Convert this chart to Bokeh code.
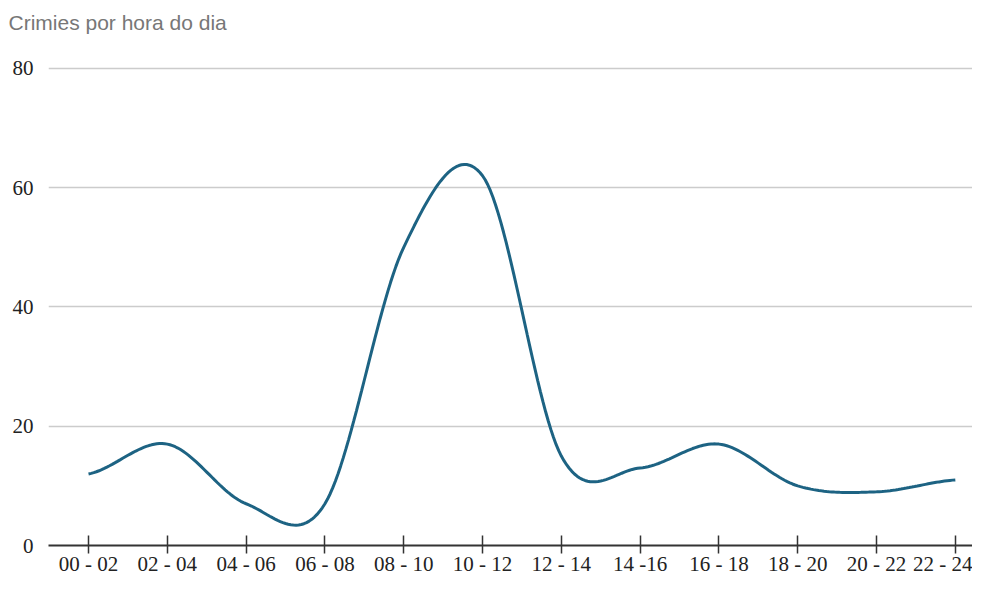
import numpy as np
from bokeh.plotting import figure
from bokeh.models import Range1d, FixedTicker
from bokeh.embed import file_html
from bokeh.resources import INLINE

title_text = "Crimies por hora do dia"
categories = ["00 - 02", "02 - 04", "04 - 06", "06 - 08", "08 - 10", "10 - 12",
              "12 - 14", "14 -16", "16 - 18", "18 - 20", "20 - 22", "22 - 24"]
crimes = [12, 17, 7, 7, 50, 62, 15, 13, 17, 10, 9, 11]
y_ticks = [0, 20, 40, 60, 80]


def catmull_rom(xs, ys, n=30):
    xs = np.asarray(xs, float)
    ys = np.asarray(ys, float)
    m = len(ys)
    tang = np.zeros(m)
    for i in range(m):
        prev = ys[i - 1] if i > 0 else ys[i]
        nxt = ys[i + 1] if i < m - 1 else ys[i]
        tang[i] = (nxt - prev) / 2.0
    out_x, out_y = [], []
    for i in range(m - 1):
        t = np.linspace(0, 1, n, endpoint=(i == m - 2))
        h00 = 2 * t**3 - 3 * t**2 + 1
        h10 = t**3 - 2 * t**2 + t
        h01 = -2 * t**3 + 3 * t**2
        h11 = t**3 - t**2
        out_y.extend(h00 * ys[i] + h10 * tang[i] + h01 * ys[i + 1] + h11 * tang[i + 1])
        out_x.extend(xs[i] + t * (xs[i + 1] - xs[i]))
    return out_x, out_y


idx = list(range(len(categories)))
sx, sy = catmull_rom(idx, crimes)

W, H = 972, 578
LEFT, TOP, BOTTOM = 48, 41, 31
frame_w = W - LEFT
frame_h = H - TOP - BOTTOM
GAP = 68 - TOP  # px between frame top and the 80 gridline
# data-space window: x index -0.508 at frame left, 78.8 px per category
x0 = -0.508
x1 = x0 + frame_w / 78.8
ppu = (frame_h - GAP) / 80.0
y1 = 80 + GAP / ppu

p = figure(width=W, height=H, output_backend="svg", toolbar_location=None,
           x_range=Range1d(x0, x1), y_range=Range1d(0, y1),
           min_border_left=LEFT, min_border_right=0, min_border_top=TOP,
           min_border_bottom=BOTTOM)
p.outline_line_color = None
p.background_fill_color = "white"
p.border_fill_color = "white"

p.title.text = title_text
p.title.align = "left"
p.title.offset = -LEFT + 8
p.title.text_font = "Liberation Sans"
p.title.text_font_size = "21px"
p.title.text_font_style = "normal"
p.title.text_color = "#777777"
p.title.standoff = 16

p.line(sx, sy, line_color="#1d6383", line_width=3)

# grid
p.xgrid.grid_line_color = None
p.ygrid.ticker = FixedTicker(ticks=y_ticks[1:])
p.ygrid.grid_line_color = "#cccccc"
p.ygrid.grid_line_width = 1.5

# y axis
p.yaxis.ticker = FixedTicker(ticks=y_ticks)
p.yaxis.axis_line_color = None
p.yaxis.major_tick_line_color = None
p.yaxis.minor_tick_line_color = None
p.yaxis.major_label_text_font = "Liberation Serif"
p.yaxis.major_label_text_font_size = "21px"
p.yaxis.major_label_text_color = "#222222"
p.yaxis.major_label_standoff = 9

# x axis
p.xaxis.ticker = FixedTicker(ticks=idx)
p.xaxis.major_label_overrides = {i: c for i, c in zip(idx, categories)}
p.xaxis.axis_line_color = "#333333"
p.xaxis.axis_line_width = 2
p.xaxis.major_tick_line_color = "#333333"
p.xaxis.major_tick_line_width = 1.5
p.xaxis.major_tick_in = 10
p.xaxis.major_tick_out = 8
p.xaxis.minor_tick_line_color = None
p.xaxis.major_label_text_font = "Liberation Serif"
p.xaxis.major_label_text_font_size = "21px"
p.xaxis.major_label_text_color = "#222222"
p.xaxis.major_label_standoff = -2

open("out.html", "w").write(file_html(p, INLINE))
